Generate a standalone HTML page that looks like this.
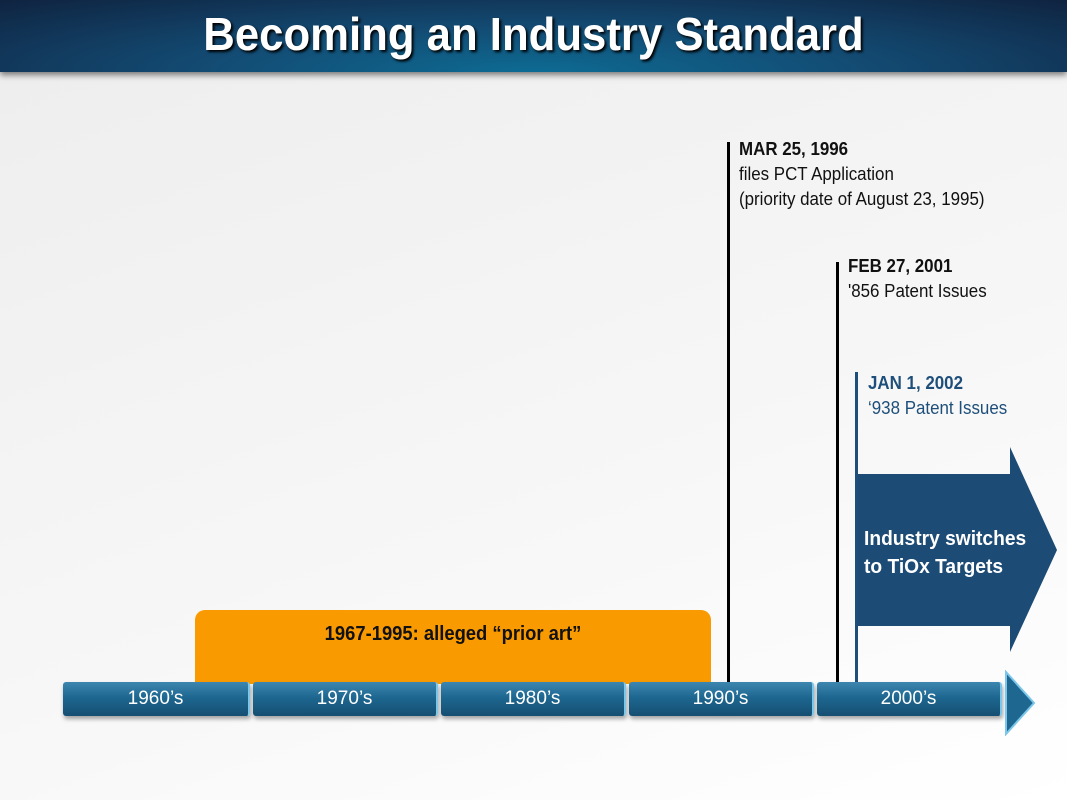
<!DOCTYPE html>
<html><head><meta charset="utf-8"><style>
body{margin:0;width:1067px;height:800px;overflow:hidden;position:relative;background:linear-gradient(160deg,#ededed 0%,#f7f7f7 60%,#ffffff 100%);font-family:"Liberation Sans Narrow","Liberation Sans",sans-serif}
.a{position:absolute}
.t{white-space:nowrap;font-size:18px;line-height:25px;color:#111;transform:scaleX(0.94);transform-origin:0 0}
.seg{position:absolute;top:682px;height:34px;border-radius:3px;background:linear-gradient(#3d86b0,#1d6790 45%,#164f72);box-shadow:1px 3px 4px rgba(0,0,0,.35);color:#fff;font-size:19px;line-height:34px;text-align:center;border-right:2px solid #7cc6ea}
</style></head><body>
<div class="a" style="left:0;top:0;width:1067px;height:72px;background:radial-gradient(ellipse at 50% 100%,#0d6b93 0%,#134a72 45%,#0f2340 100%);box-shadow:0 3px 6px rgba(0,0,0,.5)"></div>
<div class="a" style="left:0;top:4px;width:1067px;text-align:center;color:#fff;font-weight:bold;font-size:46px;line-height:60px;text-shadow:2px 2px 3px #000;transform:scaleX(0.95)">Becoming an Industry Standard</div>

<div class="a" style="left:195px;top:610px;width:516px;height:74px;background:#f99b00;border-radius:10px 10px 0 0"></div>
<div class="a" style="left:195px;top:622px;width:516px;text-align:center;font-weight:bold;font-size:20px;line-height:25px;color:#111;transform:scaleX(0.92)">1967-1995: alleged “prior art”</div>

<div class="a" style="left:727px;top:142px;width:3px;height:540px;background:#000"></div>
<div class="a t" style="left:739px;top:137px"><b>MAR 25, 1996</b><br>files PCT Application<br>(priority date of August 23, 1995)</div>
<div class="a" style="left:836px;top:262px;width:3px;height:420px;background:#000"></div>
<div class="a t" style="left:848px;top:254px"><b>FEB 27, 2001</b><br>'856 Patent Issues</div>
<div class="a" style="left:855px;top:372px;width:3px;height:310px;background:#1e4f7a"></div>
<div class="a t" style="left:868px;top:371px;color:#1e4f7a"><b>JAN 1, 2002</b><br>‘938 Patent Issues</div>

<svg class="a" style="left:0;top:0" width="1067" height="800"><polygon points="858,474 1010,474 1010,447 1057,550 1010,652 1010,626 858,626" fill="#1c4b75"/></svg>
<div class="a" style="left:864px;top:525px;color:#fff;font-weight:bold;font-size:20px;line-height:28px;transform:scaleX(0.96);transform-origin:0 0;white-space:nowrap">Industry switches<br>to TiOx Targets</div>

<div class="seg" style="left:63px;width:185px">1960’s</div>
<div class="seg" style="left:253px;width:183px">1970’s</div>
<div class="seg" style="left:441px;width:183px">1980’s</div>
<div class="seg" style="left:629px;width:183px">1990’s</div>
<div class="seg" style="left:817px;width:183px">2000’s</div>
<svg class="a" style="left:1004px;top:670px" width="34" height="66"><polygon points="2,2 30,33 2,64" fill="#1d6790" stroke="#7cc6ea" stroke-width="2"/></svg>
</body></html>
